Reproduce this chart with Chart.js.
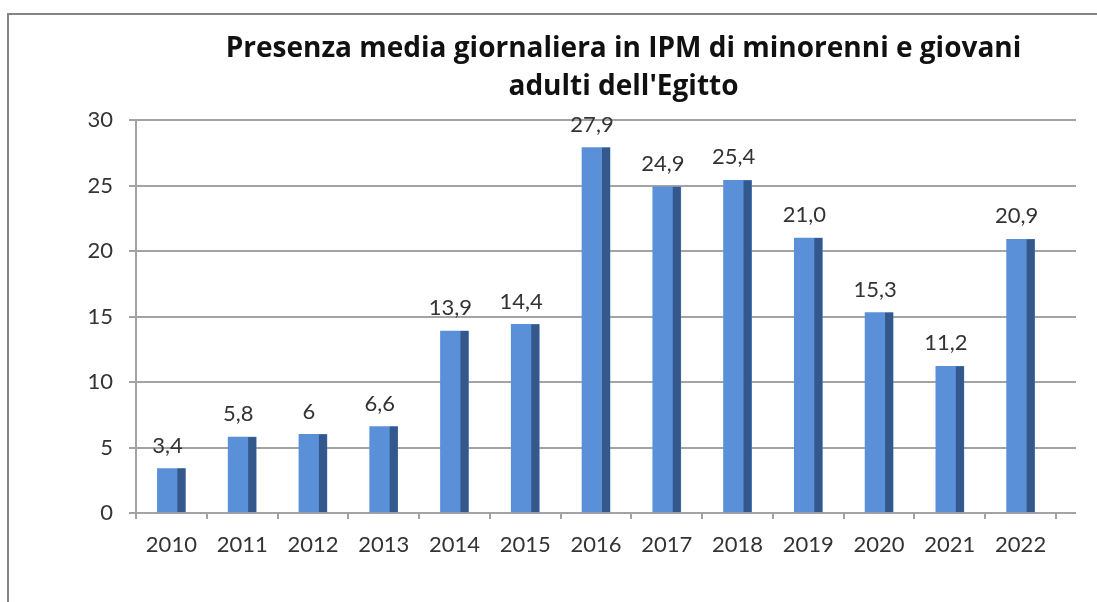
<!DOCTYPE html>
<html><head><meta charset="utf-8">
<style>html,body{margin:0;padding:0;background:#fff;overflow:hidden}canvas{display:block}</style>
<script src="https://cdn.jsdelivr.net/npm/chart.js@4/dist/chart.umd.min.js"></script>
</head><body>
<canvas id="c" width="1097" height="602"></canvas>
<script>
const categories = ['2010','2011','2012','2013','2014','2015','2016','2017','2018','2019','2020','2021','2022'];
const values = [3.4, 5.8, 6, 6.6, 13.9, 14.4, 27.9, 24.9, 25.4, 21.0, 15.3, 11.2, 20.9];
const valueLabels = ['3,4','5,8','6','6,6','13,9','14,4','27,9','24,9','25,4','21,0','15,3','11,2','20,9'];
const yMin = 0, yMax = 30, yStep = 5;
const titleLines = ['Presenza media giornaliera in IPM di minorenni e giovani', "adulti dell'Egitto"];

const FRONT = '#5990d8';
const SIDE = '#34588b';
const GRID = '#a3a3a3';
const TEXT = '#333333';
const FONT = 'Lato';

const framePlugin = {
  id: 'frame',
  beforeDraw(chart) {
    const ctx = chart.ctx;
    ctx.save();
    ctx.strokeStyle = '#858585';
    ctx.lineWidth = 2;
    ctx.beginPath();
    ctx.moveTo(8, 610); ctx.lineTo(8, 14); ctx.lineTo(1100, 14);
    ctx.stroke();
    ctx.restore();
  },
  afterLayout(chart) {
    const t = chart.titleBlock;
    if (t) { t.left = 150; t.right = 1097; }
  }
};

const gridPlugin = {
  id: 'grid3d',
  beforeDatasetsDraw(chart) {
    const ctx = chart.ctx, y = chart.scales.y, a = chart.chartArea;
    ctx.save();
    ctx.strokeStyle = GRID;
    ctx.lineWidth = 2;
    y.ticks.forEach(t => {
      const py = Math.round(y.getPixelForValue(t.value));
      ctx.beginPath();
      ctx.moveTo(a.left, py); ctx.lineTo(a.right + 20, py);
      ctx.stroke();
    });
    ctx.restore();
  }
};

const barPlugin = {
  id: 'bar3d',
  afterDatasetsDraw(chart) {
    const ctx = chart.ctx;
    const meta = chart.getDatasetMeta(0);
    ctx.save();
    meta.data.forEach((el, i) => {
      const p = el.getProps(['x','y','base','width'], true);
      ctx.fillStyle = SIDE;
      ctx.fillRect(p.x + p.width / 2 - 8, p.y, 8, p.base - p.y);
      ctx.fillStyle = TEXT;
      ctx.font = '22px ' + FONT;
      ctx.textAlign = 'center';
      ctx.textBaseline = 'middle';
      ctx.fillText(valueLabels[i], p.x - 4, p.y - 23);
    });
    ctx.restore();
  }
};

new Chart(document.getElementById('c'), {
  type: 'bar',
  data: {
    labels: categories,
    datasets: [{ data: values, backgroundColor: FRONT, borderWidth: 0, barThickness: 28 }]
  },
  options: {
    responsive: false,
    animation: false,
    devicePixelRatio: 1,
    layout: { padding: { left: 76, right: 41, top: 0, bottom: 0 } },
    plugins: {
      legend: { display: false },
      tooltip: { enabled: false },
      title: {
        display: true,
        text: titleLines,
        color: '#111111',
        font: { family: 'Open Sans', size: 28, weight: 'bold', lineHeight: 1.36 },
        padding: { top: 30, bottom: 14 }
      }
    },
    scales: {
      x: {
        grid: { offset: true, drawOnChartArea: false, tickLength: 6, color: GRID, lineWidth: 2 },
        border: { display: true, color: GRID, width: 2 },
        ticks: { color: TEXT, font: { family: FONT, size: 22 }, padding: 13, maxRotation: 0, autoSkip: false },
        afterFit(s) { s.height = 89; }
      },
      y: {
        min: yMin, max: yMax,
        grid: { drawOnChartArea: false, tickLength: 7, color: GRID, lineWidth: 2 },
        border: { display: true, color: GRID, width: 2 },
        ticks: { stepSize: yStep, color: TEXT, font: { family: FONT, size: 22 }, padding: 16 },
        afterFit(s) { s.width = 60; }
      }
    }
  },
  plugins: [framePlugin, gridPlugin, barPlugin]
});
</script>
</body></html>
